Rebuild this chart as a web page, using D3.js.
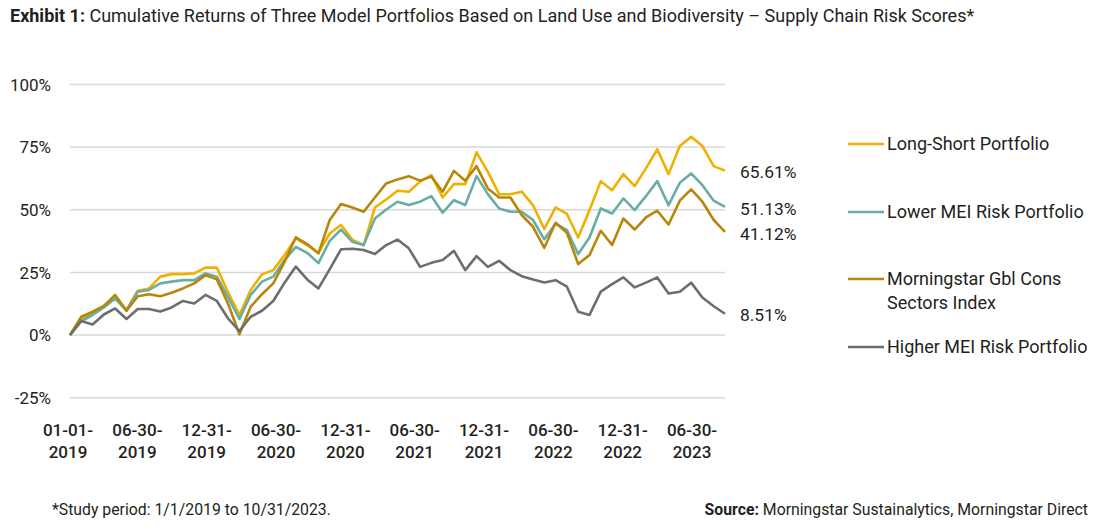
<!DOCTYPE html>
<html><head><meta charset="utf-8">
<script src="https://cdn.jsdelivr.net/npm/d3@7/dist/d3.min.js"></script>
<style>
body{margin:0;background:#fff;}
text{font-family:Roboto,"Noto Sans",sans-serif;fill:#231f20;}
</style>
</head><body>
<svg id="chart" width="1120" height="529"></svg>
<script>
// ---- data ----
const categories = [
 "01-01-2019","01-31-2019","02-28-2019","03-31-2019","04-30-2019","05-31-2019","06-30-2019","07-31-2019","08-31-2019","09-30-2019","10-31-2019","11-30-2019","12-31-2019",
 "01-31-2020","02-29-2020","03-31-2020","04-30-2020","05-31-2020","06-30-2020","07-31-2020","08-31-2020","09-30-2020","10-31-2020","11-30-2020","12-31-2020",
 "01-31-2021","02-28-2021","03-31-2021","04-30-2021","05-31-2021","06-30-2021","07-31-2021","08-31-2021","09-30-2021","10-31-2021","11-30-2021","12-31-2021",
 "01-31-2022","02-28-2022","03-31-2022","04-30-2022","05-31-2022","06-30-2022","07-31-2022","08-31-2022","09-30-2022","10-31-2022","11-30-2022","12-31-2022",
 "01-31-2023","02-28-2023","03-31-2023","04-30-2023","05-31-2023","06-30-2023","07-31-2023","08-31-2023","09-30-2023","10-31-2023"
];
const tickLabels = ["01-01-2019","06-30-2019","12-31-2019","06-30-2020","12-31-2020","06-30-2021","12-31-2021","06-30-2022","12-31-2022","06-30-2023"];
const yTicks = [-25, 0, 25, 50, 75, 100];

const seriesNames = ["Long-Short Portfolio","Lower MEI Risk Portfolio","Morningstar Gbl Cons Sectors Index","Higher MEI Risk Portfolio"];
const seriesColors = ["#F0B000","#68ADA6","#B8860B","#6E6E6E"];

const longShort = [0,6.2,8.6,11.6,15.3,10.0,17.7,18.6,23.3,24.3,24.3,24.6,26.9,
 26.9,17.0,8.0,18.0,24.2,25.9,31.9,38.6,35.9,32.8,40.5,43.9,
 38.1,35.9,50.9,54.1,57.6,57.2,61.2,63.8,54.9,60.2,60.2,72.9,
 65.1,56.2,56.2,57.2,51.8,42.3,50.9,48.3,38.9,49.8,61.4,57.8,
 64.2,59.4,66.5,74.1,64.2,75.4,79.1,75.4,67.4,65.61];
const lowerMEI = [0,5.6,8.0,11.0,14.6,9.7,17.3,18.0,20.6,21.3,21.9,21.9,24.6,
 23.3,15.0,6.4,16.0,21.3,23.3,29.9,35.2,32.8,28.7,37.6,42.1,
 37.2,35.9,46.5,50.1,53.2,51.9,53.2,55.4,48.8,53.8,51.9,63.4,
 56.2,50.5,49.2,49.2,45.9,38.2,44.5,41.9,32.3,38.9,50.5,48.5,
 54.5,49.85,55.4,61.4,51.8,60.75,64.5,59.8,53.6,51.13];
const msIndex = [0,7.3,9.3,11.6,16.0,9.7,15.5,16.3,15.5,16.9,18.6,20.6,23.9,
 22.2,12.5,0.3,11.3,16.3,20.6,29.2,39.0,36.3,32.6,45.9,52.3,
 50.9,49.2,54.9,60.5,62.1,63.4,61.6,63.2,57.2,65.5,61.6,67.4,
 58.5,54.9,54.9,47.9,43.2,34.8,44.8,40.8,28.3,31.9,41.6,35.9,
 46.5,42.1,46.9,49.6,44.1,53.6,58.1,53.2,45.9,41.12];
const higherMEI = [0,5.6,4.2,8.2,10.6,6.4,10.4,10.4,9.4,11.0,13.6,12.6,16.0,
 13.6,6.6,1.6,7.3,9.7,13.6,20.9,27.3,22.2,18.6,26.3,34.2,
 34.4,33.9,32.3,35.9,38.1,34.6,27.2,28.8,29.9,33.6,25.9,31.5,
 27.2,29.6,25.9,23.5,22.2,21.0,21.9,19.3,9.3,8.0,17.3,20.3,
 23.0,19.0,20.9,23.0,16.6,17.3,20.9,15.0,11.5,8.51];
const endLabels = ["65.61%","51.13%","41.12%","8.51%"];

// ---- drawing ----
const allSeries = [longShort, lowerMEI, msIndex, higherMEI];
const svg = d3.select("#chart");

const x = d3.scalePoint().domain(categories).range([70, 725]);
const xLab = d3.scalePoint().domain(tickLabels).range([68, 692]);
const y = d3.scaleLinear().domain([-25, 100]).range([397.7, 84.4]);

// title
const title = svg.append("text").attr("x", 10).attr("y", 22).style("font-size", "18px");
title.append("tspan").style("font-weight", "700").text("Exhibit 1:");
title.append("tspan").text(" Cumulative Returns of Three Model Portfolios Based on Land Use and Biodiversity \u2013 Supply Chain Risk Scores*");

// grid
svg.append("g").selectAll("line").data(yTicks).join("line")
  .attr("x1", 70).attr("x2", 725)
  .attr("y1", d => y(d)).attr("y2", d => y(d))
  .attr("stroke", "#D9D9D9").attr("stroke-width", 1.5);

// y labels
svg.append("g").selectAll("text").data(yTicks).join("text")
  .attr("x", 51).attr("y", d => y(d)).attr("dy", "0.36em")
  .attr("text-anchor", "end").style("font-size", "17px")
  .text(d => d + "%");

// x labels
const xl = svg.append("g").selectAll("text").data(tickLabels).join("text")
  .attr("text-anchor", "middle").style("font-size", "17px").style("font-weight", "500");
xl.append("tspan").attr("x", d => xLab(d)).attr("y", 436).text(d => d.slice(0, 6));
xl.append("tspan").attr("x", d => xLab(d)).attr("y", 458).text(d => d.slice(6));

// lines
const line = d3.line().x((d, i) => x(categories[i])).y(d => y(d));
svg.append("g").selectAll("path").data(allSeries).join("path")
  .attr("d", d => line(d))
  .attr("fill", "none")
  .attr("stroke", (d, i) => seriesColors[i])
  .attr("stroke-width", 2.6)
  .attr("stroke-linejoin", "round");

// end labels
svg.append("g").selectAll("text").data(allSeries).join("text")
  .attr("x", 740).attr("y", d => y(d[d.length - 1]) + 1.5).attr("dy", "0.36em")
  .style("font-size", "17.4px")
  .text((d, i) => endLabels[i]);

// legend
const legendY = [[144], [212], [279, 303], [347]];
const legendText = [["Long-Short Portfolio"], ["Lower MEI Risk Portfolio"], ["Morningstar Gbl Cons", "Sectors Index"], ["Higher MEI Risk Portfolio"]];
const lg = svg.append("g");
seriesNames.forEach((n, i) => {
  lg.append("line").attr("x1", 848).attr("x2", 884)
    .attr("y1", legendY[i][0]).attr("y2", legendY[i][0])
    .attr("stroke", seriesColors[i]).attr("stroke-width", 2.6);
  legendText[i].forEach((t, j) => {
    lg.append("text").attr("x", 887).attr("y", legendY[i][j]).attr("dy", "0.36em")
      .style("font-size", "18px").text(t);
  });
});

// footer
svg.append("text").attr("x", 52).attr("y", 515).style("font-size", "15.8px")
  .text("*Study period: 1/1/2019 to 10/31/2023.");
const src = svg.append("text").attr("x", 1088).attr("y", 515).attr("text-anchor", "end").style("font-size", "15.8px");
src.append("tspan").style("font-weight", "700").text("Source:");
src.append("tspan").text(" Morningstar Sustainalytics, Morningstar Direct");
</script>
</body></html>
